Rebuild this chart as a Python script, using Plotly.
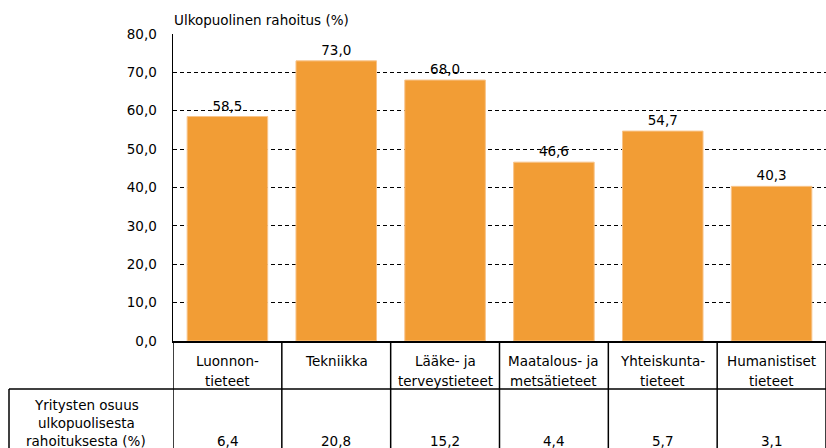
import plotly.graph_objects as go

# ---- data ----
categories = ["Luonnontieteet", "Tekniikka", "Lääke- ja terveystieteet",
              "Maatalous- ja metsätieteet", "Yhteiskuntatieteet", "Humanistiset tieteet"]
label_line1 = ["Luonnon-", "Tekniikka", "Lääke- ja", "Maatalous- ja", "Yhteiskunta-", "Humanistiset"]
label_line2 = ["tieteet", "", "terveystieteet", "metsätieteet", "tieteet", "tieteet"]
external_funding = [58.5, 73.0, 68.0, 46.6, 54.7, 40.3]
company_share = [6.4, 20.8, 15.2, 4.4, 5.7, 3.1]
row_header = ["Yritysten osuus", "ulkopuolisesta", "rahoituksesta (%)"]
y_title = "Ulkopuolinen rahoitus (%)"
y_ticks = [0, 10, 20, 30, 40, 50, 60, 70, 80]

W, H = 826, 448
FONT = "DejaVu Sans"
FS = 13.5
BAR_COLOR = "#F29D35"

def px(x):
    return x / W

def py(y):
    return (H - y) / H

x_idx = list(range(len(categories)))

fig = go.Figure()
fig.add_trace(go.Bar(
    x=x_idx, y=external_funding,
    width=0.74,
    marker=dict(color=BAR_COLOR, line=dict(color="#F8C48A", width=1)),
    texttemplate="%{y:.1f}", textposition="outside",
    textfont=dict(family=FONT, size=FS, color="black"),
    cliponaxis=False,
    hoverinfo="skip",
))

fig.update_layout(
    width=W, height=H,
    margin=dict(l=0, r=0, t=0, b=0, autoexpand=False),
    paper_bgcolor="white", plot_bgcolor="white",
    separators=", ",
    showlegend=False,
    font=dict(family=FONT, size=FS, color="black"),
)

fig.update_xaxes(
    domain=[px(173), 1.0],
    range=[-0.5, len(categories) - 0.5],
    showticklabels=False, showgrid=False, zeroline=False,
    showline=True, linecolor="black", linewidth=1.5,
    automargin=False,
    fixedrange=True,
)
fig.update_yaxes(
    domain=[py(341), py(34)],
    range=[0, 80],
    tickvals=y_ticks, tickformat=".1f",
    ticks="", ticklabelstandoff=12,
    showgrid=True, gridcolor="black", gridwidth=1, griddash="4px,3px",
    zeroline=False,
    showline=True, linecolor="black", linewidth=1.5,
    tickfont=dict(family=FONT, size=FS, color="black"),
    automargin=False,
    fixedrange=True,
)

# table lines
line_style = dict(color="black", width=1.5)
for i in range(len(categories) + 1):
    fig.add_shape(type="line", xref="x", yref="paper",
                  x0=i - 0.5, x1=i - 0.5, y0=0, y1=py(341), line=line_style)
fig.add_shape(type="line", xref="paper", yref="paper",
              x0=px(9), x1=1.0, y0=py(389), y1=py(389), line=line_style)
fig.add_shape(type="line", xref="paper", yref="paper",
              x0=px(9), x1=px(9), y0=0, y1=py(389), line=line_style)

# category labels and table values
for i in x_idx:
    fig.add_annotation(x=i, xref="x", y=py(361), yref="paper", text=label_line1[i],
                       showarrow=False, xanchor="center", yanchor="middle",
                       font=dict(family=FONT, size=FS, color="black"))
    if label_line2[i]:
        fig.add_annotation(x=i, xref="x", y=py(381), yref="paper", text=label_line2[i],
                           showarrow=False, xanchor="center", yanchor="middle",
                           font=dict(family=FONT, size=FS, color="black"))
    fig.add_annotation(x=i, xref="x", y=py(441), yref="paper",
                       text=f"{company_share[i]:.1f}".replace(".", ","),
                       showarrow=False, xanchor="center", yanchor="middle",
                       font=dict(family=FONT, size=FS, color="black"))

# row header
for txt, yy in zip(row_header, [405, 423, 441]):
    fig.add_annotation(x=px(86), xref="paper", y=py(yy), yref="paper", text=txt,
                       showarrow=False, xanchor="center", yanchor="middle",
                       font=dict(family=FONT, size=FS, color="black"))

# y title
fig.add_annotation(x=px(172), xref="paper", y=py(20), yref="paper", text=y_title,
                   showarrow=False, xanchor="left", yanchor="middle",
                   font=dict(family=FONT, size=FS, color="black"))

fig.write_html(
    "out.html",
    config={"displayModeBar": False, "staticPlot": True},
    post_script="document.body.style.margin='0';document.body.style.overflow='hidden';",
)
